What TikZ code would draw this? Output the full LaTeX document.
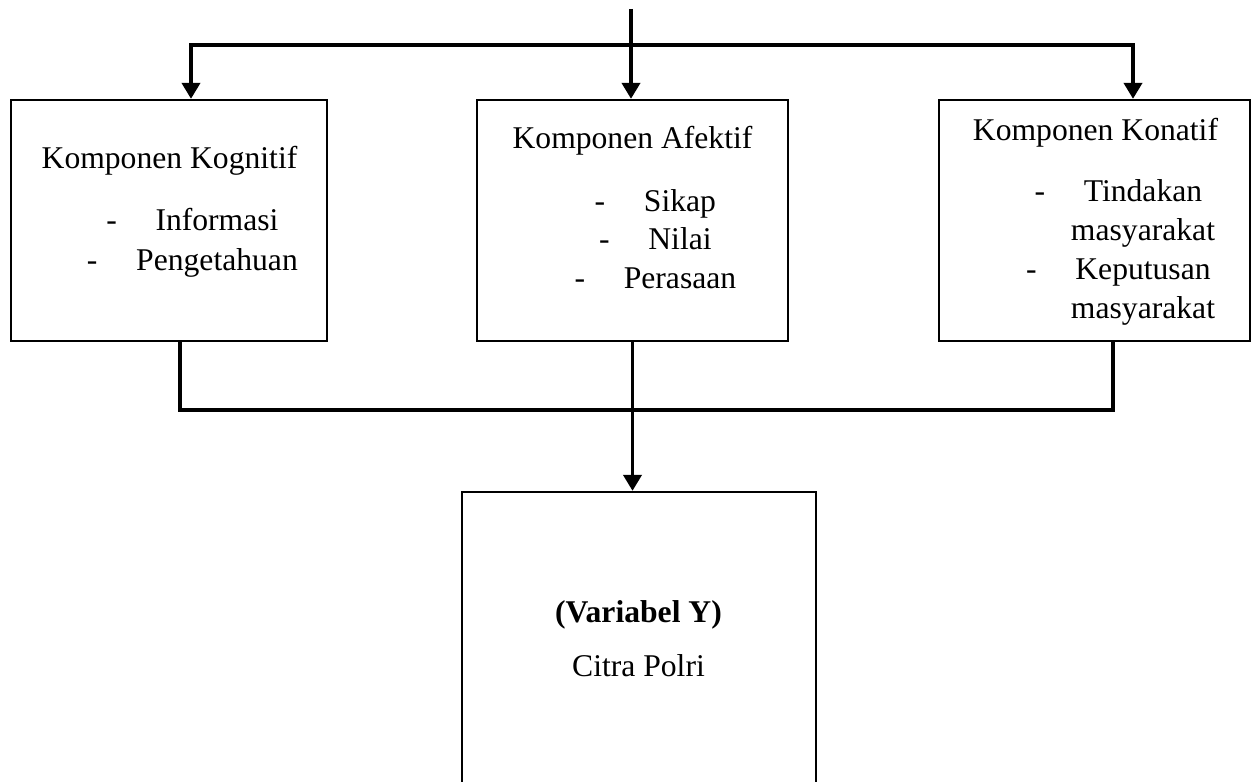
\documentclass[tikz,border=0pt]{standalone}
\usepackage{fontspec}
\setmainfont{Liberation Serif}
\usetikzlibrary{positioning,arrows.meta}

\begin{document}
\begin{tikzpicture}[x=0.2mm,y=-0.2mm,>={Triangle[width=3.6mm,length=3.2mm]},
  font=\fontsize{18}{22}\selectfont,
  box/.style={draw,line width=1.3pt,inner sep=0,minimum height=48.2mm},
  link/.style={line width=2.2pt},
  txt/.style={anchor=base,inner sep=0},
  dashmark/.style={anchor=base east,inner sep=0,xshift=-7.6mm}]
  \clip (0,0) rectangle (1257,782);
  % the four boxes
  \node[box,minimum width=63.2mm] (kog) at (169,220.5) {};
  \node[box,minimum width=62.2mm] (afe) at (632.5,220.5) {};
  \node[box,minimum width=62.2mm] (kon) at (1094.5,220.5) {};
  \node[box,minimum width=70.8mm,minimum height=70mm] (var) at (639,667) {};
  % texts
  \node[txt] (kog-t) at (169.5,168) {Komponen Kognitif};
  \node[txt] (kog-a) at (217,230) {Informasi};
  \node[txt] (kog-b) at (217,270) {Pengetahuan};
  \node[dashmark] (kog-da) at (kog-a.base west) {-};
  \node[dashmark] (kog-db) at (kog-b.base west) {-};
  \node[txt] (afe-t) at (632.5,149) {Komponen Afektif};
  \node[txt] (afe-a) at (680,211) {Sikap};
  \node[txt] (afe-b) at (680,249) {Nilai};
  \node[txt] (afe-c) at (680,288) {Perasaan};
  \node[dashmark] (afe-da) at (afe-a.base west) {-};
  \node[dashmark] (afe-db) at (afe-b.base west) {-};
  \node[dashmark] (afe-dc) at (afe-c.base west) {-};
  \node[txt] (kon-t) at (1095.5,140) {Komponen Konatif};
  \node[txt] (kon-a) at (1143,202) {Tindakan};
  \node[txt] (kon-a2) at (1143,240) {masyarakat};
  \node[txt] (kon-b) at (1143,279) {Keputusan};
  \node[txt] (kon-b2) at (1143,318) {masyarakat};
  \node[dashmark] (kon-da) at (kon-a.base west) {-};
  \node[dashmark] (kon-db) at (kon-b.base west) {-};
  \node[txt] (var-t) at (638.5,622) {\bfseries (Variabel Y)};
  \node[txt] (var-n) at (638.5,676) {Citra Polri};
  % connectors
  \coordinate (src) at (631,9);
  \coordinate (split) at (631,45);
  \path (afe.south) ++(0,68) coordinate (merge);
  \draw[link,->] (src) -- (src |- afe.north);
  \draw[link,->] (split) -| ([xshift=4.4mm]kog.north);
  \draw[link,->] (split) -| ([xshift=7.7mm]kon.north);
  \draw[link] ([xshift=2.2mm]kog.south) |- (merge);
  \draw[link] ([xshift=3.7mm]kon.south) |- (merge);
  \draw[link] (afe.south) -- (merge);
  \draw[link,->] (merge) -- (merge |- var.north);
\end{tikzpicture}
\end{document}
